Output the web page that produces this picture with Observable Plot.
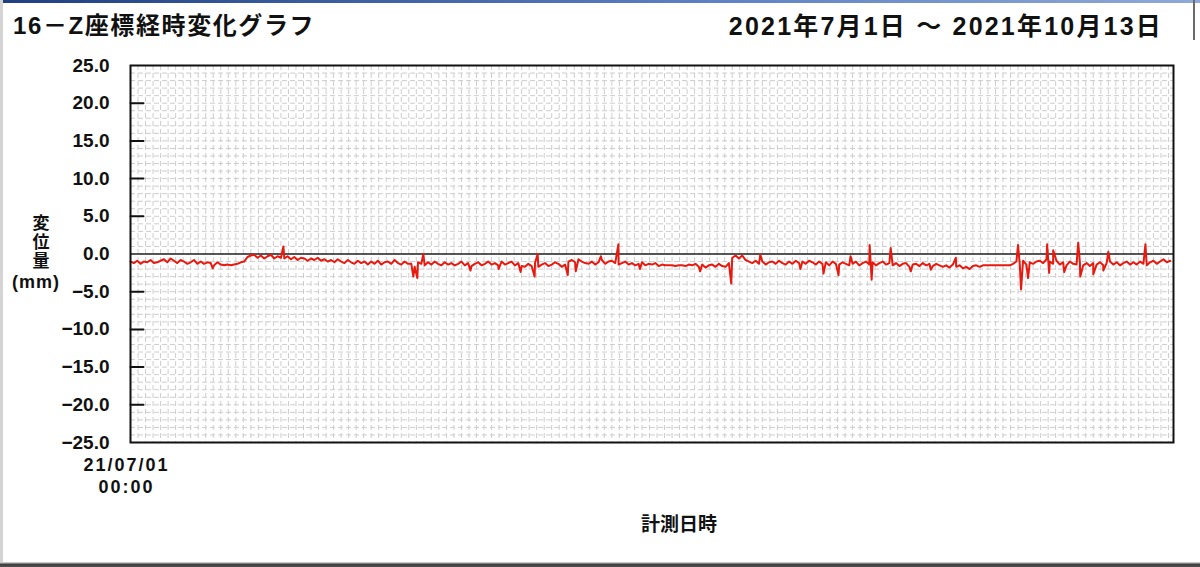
<!DOCTYPE html>
<html>
<head>
<meta charset="utf-8">
<script src="https://cdn.jsdelivr.net/npm/d3@7"></script>
<script src="https://cdn.jsdelivr.net/npm/@observablehq/plot@0.6"></script>
<style>
  html, body { margin: 0; padding: 0; background: #fff; }
  #wrap { position: relative; width: 1200px; height: 567px; overflow: hidden; background: #fff;
    font-family: "Liberation Sans", "Noto Sans CJK JP", sans-serif; font-weight: bold; color: #111; }
  #chart { position: absolute; left: 0; top: 0; }
  .t { position: absolute; white-space: nowrap; font-weight: bold; }
  #topbar { position: absolute; left: 0; top: 0; width: 1200px; height: 3px;
    background: linear-gradient(to right, #1f3f80, #5f82c4 60%, #8fa9d8); }
  #leftbar { position: absolute; left: 0; top: 0; width: 3px; height: 567px; background: #d4d4d4; }
  #rightbar { position: absolute; left: 1193px; top: 0; width: 2px; height: 40px; background: #6a6a6a; }
  #botbar { position: absolute; left: 0; top: 562px; width: 1200px; height: 5px;
    background: linear-gradient(to bottom, #c8c8c8 0, #c8c8c8 1px, #3c3c3c 2px, #505050 5px); }
  g[aria-label="x-axis tick label"] text { letter-spacing: 2px; }
</style>
</head>
<body>
<div id="wrap">
  <div id="chart"></div>
  <div id="topbar"></div>
  <div id="leftbar"></div>
  <div id="rightbar"></div>
  <div id="botbar"></div>
  <div class="t" style="left:13px; top:6px; font-size:24px; letter-spacing:1.6px;">16－Z座標経時変化グラフ</div>
  <div class="t" style="right:37px; top:6px; font-size:25px; letter-spacing:2.2px;">2021年7月1日 ～ 2021年10月13日</div>
  <div class="t" style="left:32px; top:214px; font-size:17px; line-height:19px; width:18px; text-align:center;">変<br>位<br>量</div>
  <div class="t" style="left:12px; top:272px; font-size:18px; letter-spacing:1px;">(mm)</div>
  <div class="t" style="left:641px; top:509px; font-size:19px;">計測日時</div>
</div>
<script>
// Period: 2021-07-01 00:00 to 2021-10-14 00:00, x in hours from start
const startLabel = "21/07/01\n00:00";
const totalHours = 2496;
const stepHours = 8; // base readings every 8 hours

// Displacement (mm), 3 readings per day
const baseValues = [
  -1.0,-1.2,-0.9,-1.3,-1.0,-1.1, -0.8,-1.2,-1.1,-0.9,-0.7,-1.1,
  -0.6,-0.9,-1.2,-0.8,-1.0,-1.3, -1.1,-0.8,-1.3,-1.0,-1.3,-1.1,
  -1.2,-1.5,-1.1,-1.4,-1.5,-1.4,
  -1.5,-1.4,-1.3,-1.1,-1.0,-0.4,
  -0.2,-0.1,-0.5,-0.2,-0.6,-0.3, -0.1,-0.6,-0.3,-0.5,-0.6,-0.3,
  -0.7,-0.4,-0.8,-0.5,-0.6,-0.9, -0.6,-0.8,-0.5,-0.9,-0.7,-1.0,
  -0.8,-1.1,-0.7,-1.0,-1.2,-0.8, -1.1,-1.3,-0.9,-1.2,-1.0,-1.4,
  -1.0,-1.3,-0.9,-1.4,-1.1,-1.0, -1.3,-0.8,-1.2,-1.4,-1.0,-1.3,
  -1.3,-1.7,-1.1,-1.3,-1.5,-1.1, -1.4,-1.0,-1.3,-1.5,-1.1,-1.4,
  -1.2,-1.5,-1.3,-1.0,-1.5,-1.2, -1.6,-1.3,-1.1,-1.5,-1.3,-1.0,
  -1.4,-1.2,-1.5,-1.0,-1.4,-1.2, -1.0,-1.5,-1.2,-1.6,-1.7,-1.3,
  -1.6,-1.2,-1.7,-1.4,-1.2,-1.6, -1.4,-1.1,-1.3,-1.7,-1.4,-1.0,
  -0.8,-1.1,-0.7,-1.0,-1.2,-1.3, -1.0,-1.4,-1.1,-0.8,-1.3,-1.0,
  -0.9,-1.2,-1.4,-1.2,-1.0,-1.4, -1.2,-1.5,-1.3,-1.1,-1.5,-1.3,
  -1.4,-1.2,-1.6,-1.4,-1.5,-1.5, -1.5,-1.6,-1.5,-1.5,-1.6,-1.4,
  -1.5,-1.3,-1.7,-1.4,-1.8,-1.5, -1.4,-1.7,-1.3,-1.6,-1.7,-1.2,
  -0.5,-0.2,-0.6,-0.2,-0.8,-1.0, -1.2,-0.9,-1.3,-1.0,-1.4,-1.1,
  -1.0,-1.3,-0.9,-1.2,-1.4,-1.0, -1.3,-0.9,-1.2,-1.0,-1.3,-0.9,
  -1.1,-1.4,-1.0,-1.3,-1.1,-1.5, -1.0,-1.3,-1.4,-1.1,-1.3,-1.5,
  -1.3,-1.0,-1.5,-1.2,-1.0,-1.4, -1.1,-1.5,-1.2,-1.0,-1.4,-1.2,
  -1.5,-1.2,-1.6,-1.3,-1.2,-1.7, -1.4,-1.3,-1.6,-1.2,-1.5,-1.3,
  -1.6,-1.3,-1.5,-1.7,-1.5,-1.8, -1.4,-1.7,-1.5,-1.9,-1.7,-2.0,
  -1.6,-1.5,-1.7,-1.5,-1.5,-1.5, -1.5,-1.5,-1.5,-1.5,-1.5,-1.5,
  -1.3,-1.0,-1.3,-0.9,-1.4,-1.1, -1.3,-1.0,-0.9,-1.2,-0.7,-1.0,
  -1.3,-0.9,-1.4,-1.1,-1.5,-1.0, -1.3,-1.4,-1.1,-1.5,-1.2,-1.6,
  -1.2,-1.4,-1.1,-1.5,-1.2,-1.0, -1.4,-1.1,-1.5,-1.2,-1.0,-1.4,
  -1.1,-1.4,-1.0,-1.3,-1.5,-1.1, -0.9,-1.3,-1.0,-0.7,-1.1,-0.9
];

// Short-lived spikes: day offset from start, displacement (mm)
const spikeDays   = [8.2, 15.25, 28.2, 28.6, 29.2, 33.9, 36.7, 38.9, 40.3, 40.6, 43.6, 44.4, 46.9, 48.65, 50.8, 56.8, 59.9, 62.8, 66.8, 69.1, 70.6, 71.8, 73.7, 73.9, 75.8, 77.8, 79.8, 82.3, 88.5, 88.8, 89.5, 91.4, 91.6, 92.0, 93.1, 94.5, 94.7, 96.0, 97.0, 97.5, 101.2];
const spikeValues = [-1.9, 1.0, -3.0, -3.2, 0.0, -2.2, -2.0, -2.4, -3.0, 0.0, -2.8, -2.3, -0.3, 1.3, -2.0, -2.3, -3.9, -0.1, -2.0, -2.6, -2.8, -0.3, 1.2, -3.4, 0.8, -2.3, -2.1, -0.5, 1.2, -4.7, -3.2, 1.3, -2.5, 0.5, -2.4, 1.5, -3.0, -2.7, -2.2, 0.3, 1.3];

// Axis ticks
const yLabelTicks = [25, 20, 15, 10, 5, 0, -5, -10, -15, -20, -25];
const yInnerTicks = [20, 15, 10, 5, -5, -10, -15, -20];

// Build the series table
const series = baseValues.map((v, i) => ({h: i * stepHours, v}))
  .concat(spikeDays.map((d, i) => ({h: d * 24, v: spikeValues[i]})))
  .sort((a, b) => a.h - b.h);

// Background grid positions
const xGrid = d3.range(18, totalHours, 18);
const yGrid = d3.range(-24, 25, 1);

// Inward tick shape (straight line of given length)
const tickShape = {draw(context, l) { context.moveTo(0, 0); context.lineTo(0, -l); }};

const chart = Plot.plot({
  width: 1200,
  height: 567,
  marginLeft: 130,
  marginRight: 27,
  marginTop: 65,
  marginBottom: 125,
  style: {fontFamily: '"Liberation Sans", "Noto Sans CJK JP", sans-serif', color: "#111", background: "transparent"},
  x: {domain: [0, totalHours], axis: null},
  y: {domain: [-25, 25], axis: null},
  marks: [
    Plot.ruleX(xGrid, {stroke: "#cdcdcd", strokeWidth: 1, strokeDasharray: "5,3"}),
    Plot.ruleY(yGrid, {stroke: "#cdcdcd", strokeWidth: 1, strokeDasharray: "5,3"}),
    Plot.ruleY([0], {stroke: "#222", strokeWidth: 1.6}),
    Plot.line(series, {x: "h", y: "v", stroke: "#e8190f", strokeWidth: 2}),
    Plot.frame({stroke: "#111", strokeWidth: 2}),
    Plot.vector(yInnerTicks, {y: d => d, frameAnchor: "left", length: 13, rotate: 90, anchor: "start",
      shape: tickShape, stroke: "#111", strokeWidth: 2}),
    Plot.axisY({ticks: yLabelTicks, tickSize: 0, tickPadding: 21, tickFormat: d3.format(".1f"), label: null,
      fontSize: 19, fontWeight: "bold", fill: "#111"}),
    Plot.axisX({ticks: [0], tickSize: 0, tickPadding: 14, tickFormat: () => startLabel, label: null,
      fontSize: 18, fontWeight: "bold", fill: "#111", lineHeight: 1.17, dx: -4})
  ]
});
document.getElementById("chart").appendChild(chart);
</script>
</body>
</html>
